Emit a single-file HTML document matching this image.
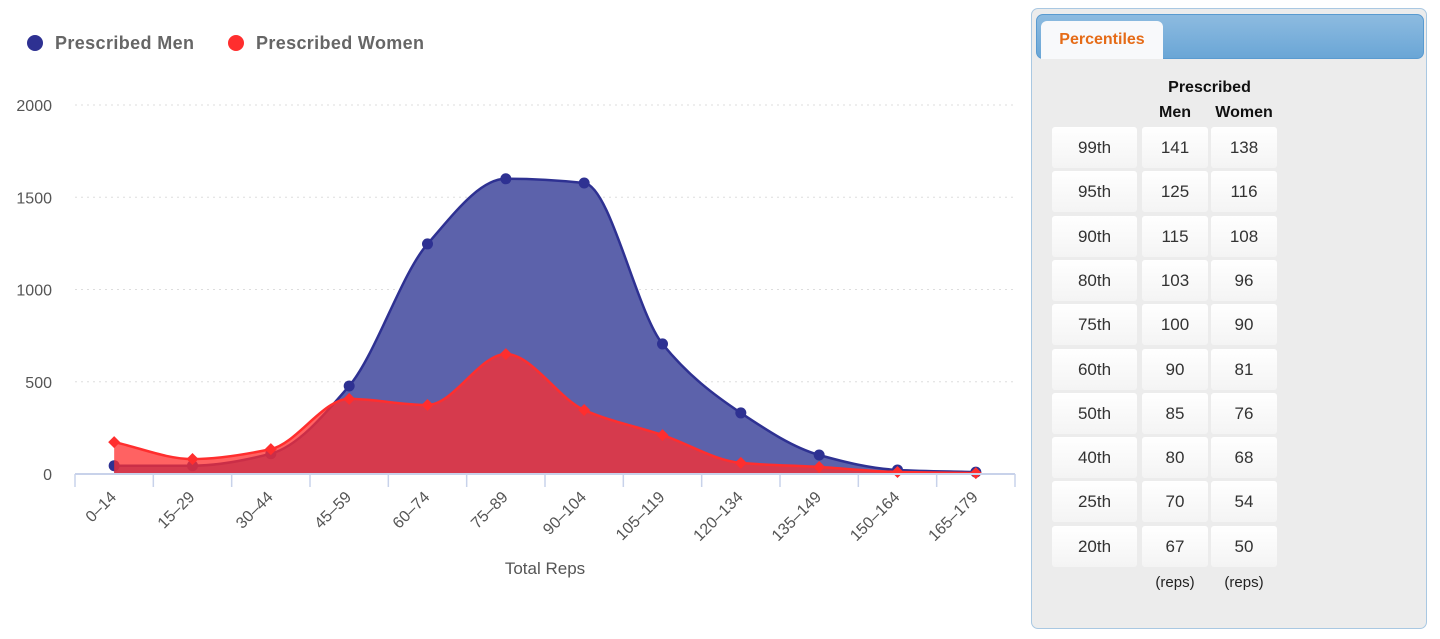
<!DOCTYPE html>
<html><head><meta charset="utf-8"><style>
body{margin:0;width:1440px;height:639px;background:#fff;font-family:"Liberation Sans",sans-serif;position:relative;overflow:hidden}
#chart{position:absolute;left:0;top:0}
.panel{position:absolute;left:1031px;top:8px;width:396px;height:621px;background:#ececec;border:1px solid #a9c8e2;border-radius:7px;box-sizing:border-box}
.hdr{position:absolute;left:4px;top:5px;width:388px;height:45px;border-radius:7px;border:1px solid #5a9bd0;box-sizing:border-box;background:linear-gradient(#8dbbe0,#6aa6d6)}
.tab{position:absolute;left:9px;top:12px;width:122px;height:38px;background:#f8f9fb;border-radius:6px 6px 0 0;color:#e56b17;font-weight:bold;font-size:16px;text-align:center;line-height:38px}
.th{position:absolute;font-weight:bold;font-size:16px;color:#111;text-align:center}
.cell{position:absolute;height:41px;background:linear-gradient(#fff,#f4f4f4);border-radius:3px;font-size:17px;color:#333;text-align:center;line-height:41px}
.unit{position:absolute;font-size:15px;color:#222;text-align:center;width:66px;top:565px}
</style></head><body>
<svg id="chart" width="1025" height="639"></svg>
<div class="panel">
<div class="hdr"></div>
<div class="tab">Percentiles</div>
<div class="th" style="left:110px;top:70px;width:135px">Prescribed</div>
<div class="th" style="left:110px;top:95px;width:66px">Men</div>
<div class="th" style="left:179px;top:95px;width:66px">Women</div>
<div id="rows"></div>
<div class="unit" style="left:110px">(reps)</div>
<div class="unit" style="left:179px">(reps)</div>
</div>
<script>
const categories=["0–14","15–29","30–44","45–59","60–74","75–89","90–104","105–119","120–134","135–149","150–164","165–179"];
const menValues=[45,45,110,477,1247,1600,1577,705,331,103,22,10];
const womenValues=[173,81,135,407,374,650,347,211,60,38,11,5];
const yTicks=[0,500,1000,1500,2000];
const pctLabels=["99th","95th","90th","80th","75th","60th","50th","40th","25th","20th"];
const pctMen=[141,125,115,103,100,90,85,80,70,67];
const pctWomen=[138,116,108,96,90,81,76,68,54,50];

const NS="http://www.w3.org/2000/svg";
const svg=document.getElementById('chart');
const X0=75,X1=1015,Y0=474,Y1=105,YMAX=2000;
const cw=(X1-X0)/categories.length;
const xs=i=>X0+cw*(i+0.5);
const ys=v=>Y0-(v/YMAX)*(Y0-Y1);
function mk(t,a,p){const e=document.createElementNS(NS,t);for(const k in a)e.setAttribute(k,a[k]);(p||svg).appendChild(e);return e;}
yTicks.forEach(t=>{
  if(t>0){const g=mk('line',{x1:X0,x2:X1,y1:ys(t),y2:ys(t),stroke:'#ddd','stroke-dasharray':'2,4'});
  
  }
  const l=mk('text',{x:52,y:ys(t)+6,'text-anchor':'end','font-size':16,fill:'#555'});l.textContent=t;
  
  
});
function path(vals){
  const p=vals.map((v,i)=>[xs(i),ys(v)]);
  const n=p.length,h=cw;
  const dl=[];for(let i=0;i<n-1;i++)dl.push((p[i+1][1]-p[i][1])/h);
  const m=[];
  for(let i=0;i<n;i++){
    if(i===0)m.push(dl[0]);else if(i===n-1)m.push(dl[n-2]);
    else if(dl[i-1]*dl[i]<=0)m.push(0);
    else m.push(2/(1/dl[i-1]+1/dl[i]));
  }
  let d=`M${p[0][0]},${p[0][1]}`;
  for(let i=0;i<n-1;i++){
    d+=` C${p[i][0]+h/3},${p[i][1]+m[i]*h/3} ${p[i+1][0]-h/3},${p[i+1][1]-m[i+1]*h/3} ${p[i+1][0]},${p[i+1][1]}`;
  }
  return d;
}
function series(vals,fill,stroke,name,diamond){
  const d=path(vals);
  const a=mk('path',{d:d+` L${xs(vals.length-1)},${Y0} L${xs(0)},${Y0} Z`,fill:fill});
  
  
  const l=mk('path',{d:d,fill:'none',stroke:stroke,'stroke-width':2.5});
  
  
  vals.forEach((v,i)=>{
    let m;
    if(diamond){const x=xs(i),y=ys(v);m=mk('path',{d:`M${x},${y-6}L${x+6},${y}L${x},${y+6}L${x-6},${y}Z`,fill:stroke});}
    else m=mk('circle',{cx:xs(i),cy:ys(v),r:5.5,fill:stroke});
    
    
  });
}
series(menValues,'#5c62ab','#2e3192','men',false);
series(womenValues,'rgba(255,45,45,0.75)','#ff2e2e','women',true);
const ax=mk('line',{x1:X0,x2:X1,y1:Y0,y2:Y0,stroke:'#c8d2ea','stroke-width':2});


for(let i=0;i<=categories.length;i++){
  const t=mk('line',{x1:X0+cw*i,x2:X0+cw*i,y1:Y0,y2:Y0+13,stroke:'#c8d2ea','stroke-width':1.5});
  
  
}
categories.forEach((c,i)=>{
  const x=xs(i)+3,y=Y0+24;
  const t=mk('text',{x:x,y:y,'text-anchor':'end','font-size':16,fill:'#555',transform:`rotate(-45 ${x} ${y})`});
  t.textContent=c;
  
  
});
const xt=mk('text',{x:545,y:574,'text-anchor':'middle','font-size':17,fill:'#555'});xt.textContent='Total Reps';


[[35,'#2e3192','Prescribed Men'],[236,'#ff2e2e','Prescribed Women']].forEach(([x,col,txt])=>{
  const g=mk('g',{});
  
  
  mk('circle',{cx:x,cy:43,r:8,fill:col},g);
  const t=mk('text',{x:x+20,y:49,'font-size':18,'font-weight':'bold',fill:'#666',textLength:txt.length>15?168:139});t.textContent=txt;
  g.appendChild(t);
});
const rows=document.getElementById('rows');
pctLabels.forEach((lab,i)=>{
  const top=118+i*44.3;
  [[20,85,lab,'percentile-label'],[110,66,pctMen[i],'men-percentile'],[179,66,pctWomen[i],'women-percentile']].forEach(([l,w,v,n])=>{
    const d=document.createElement('div');d.className='cell';
    d.style.left=l+'px';d.style.top=top+'px';d.style.width=w+'px';d.textContent=v;
    
    
    rows.appendChild(d);
  });
});
</script>
</body></html>
